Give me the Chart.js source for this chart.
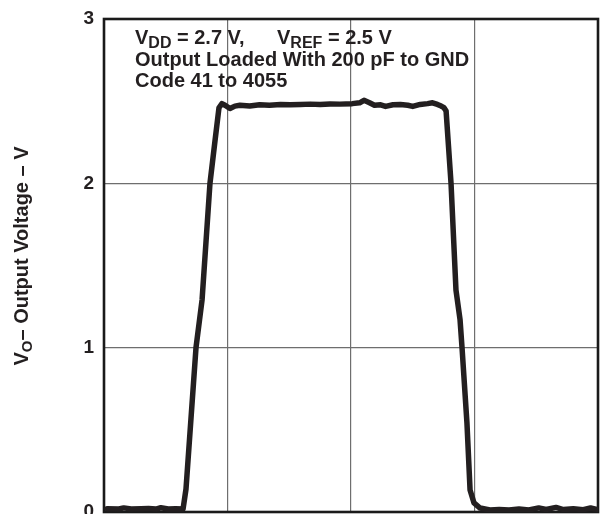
<!DOCTYPE html>
<html>
<head>
<meta charset="utf-8">
<script src="https://cdn.jsdelivr.net/npm/chart.js@4.4.1/dist/chart.umd.min.js"></script>
<style>
  html, body { margin: 0; padding: 0; background: #ffffff; }
  #wrap { width: 600px; height: 514px; }
</style>
</head>
<body>
<div id="wrap"><canvas id="c" width="600" height="514"></canvas></div>
<script>
// Time in grid divisions (x axis has no labels in the reference)
const timeDiv = [
  0.025, 0.12, 0.16, 0.22, 0.30, 0.36, 0.42, 0.46, 0.52, 0.58, 0.64,
  0.664, 0.745, 0.794, 0.858, 0.899, 0.931, 0.955,
  0.98, 1.02, 1.06, 1.10, 1.18, 1.26, 1.34, 1.43, 1.51, 1.59, 1.67, 1.75, 1.83, 1.91,
  2.01, 2.07, 2.105, 2.15, 2.19, 2.24, 2.28, 2.34, 2.40, 2.46, 2.50, 2.56, 2.62, 2.66, 2.70, 2.73, 2.753,
  2.77, 2.81, 2.85, 2.883, 2.899, 2.939, 2.964, 2.996, 3.045, 3.125,
  3.2, 3.28, 3.36, 3.44, 3.52, 3.58, 3.66, 3.72, 3.8, 3.88, 3.94, 3.99
];
// Output voltage, V
const outputVoltage = [
  0.02, 0.018, 0.025, 0.018, 0.02, 0.022, 0.018, 0.026, 0.018, 0.02, 0.018,
  0.14, 1.0, 1.29, 2.0, 2.26, 2.46, 2.485,
  2.475, 2.455, 2.47, 2.475, 2.47, 2.478, 2.475, 2.48, 2.478, 2.48, 2.482, 2.48, 2.483, 2.482,
  2.485, 2.49, 2.505, 2.49, 2.475, 2.478, 2.468, 2.478, 2.48, 2.475, 2.468, 2.48, 2.485, 2.49, 2.48, 2.47, 2.46,
  2.44, 2.0, 1.35, 1.17, 1.0, 0.54, 0.134, 0.055, 0.024, 0.012,
  0.015, 0.012, 0.018, 0.012, 0.025, 0.015, 0.028, 0.015, 0.02, 0.014, 0.024, 0.016
];
const yTickLabels = ['0', '1', '2', '3'];
const annotationLine2 = 'Output Loaded With 200 pF to GND';
const annotationLine3 = 'Code 41 to 4055';

const INK = '#231f20';
const FONT = '"Liberation Sans", Arial, Helvetica, sans-serif';

function drawSegments(ctx, x, y, segs) {
  let cx = x;
  for (const [t, size, dy] of segs) {
    ctx.font = 'bold ' + size + 'px ' + FONT;
    ctx.fillText(t, cx, y + dy);
    cx += ctx.measureText(t).width;
  }
  return cx;
}
function measureSegments(ctx, segs) {
  let w = 0;
  for (const [t, size] of segs) {
    ctx.font = 'bold ' + size + 'px ' + FONT;
    w += ctx.measureText(t).width;
  }
  return w;
}

const decor = {
  id: 'decor',
  beforeDatasetsDraw(chart) {
    const { ctx, chartArea: a } = chart;
    ctx.save();
    ctx.strokeStyle = '#1a1a1a';
    ctx.lineWidth = 2.6;
    ctx.strokeRect(a.left, a.top, a.right - a.left, a.bottom - a.top);
    ctx.restore();
  },
  afterDraw(chart) {
    const { ctx, chartArea: a } = chart;
    ctx.save();
    ctx.fillStyle = INK;
    ctx.textBaseline = 'alphabetic';
    ctx.textAlign = 'left';
    const x0 = a.left + 31;
    drawSegments(ctx, x0, a.top + 25, [['V', 20, 0], ['DD', 16, 4], [' = 2.7 V,', 20, 0]]);
    drawSegments(ctx, a.left + 173, a.top + 25, [['V', 20, 0], ['REF', 16, 4], [' = 2.5 V', 20, 0]]);
    ctx.font = 'bold 20px ' + FONT;
    ctx.fillText(annotationLine2, x0, a.top + 47);
    ctx.fillText(annotationLine3, x0, a.top + 68);
    const segs = [['V', 20, 0], ['O', 15, 4], ['\u2013 Output Voltage \u2013 V', 20, 0]];
    const w = measureSegments(ctx, segs);
    ctx.translate(28, 256);
    ctx.rotate(-Math.PI / 2);
    drawSegments(ctx, -w / 2, 0, segs);
    ctx.restore();
  }
};

new Chart(document.getElementById('c'), {
  type: 'line',
  data: {
    datasets: [{
      data: timeDiv.map((t, i) => ({ x: t, y: outputVoltage[i] })),
      borderColor: INK,
      borderWidth: 5.5,
      borderJoinStyle: 'round',
      borderCapStyle: 'round',
      pointRadius: 0,
      tension: 0,
      fill: false
    }]
  },
  options: {
    responsive: false,
    animation: false,
    devicePixelRatio: 1,
    layout: { padding: { left: 0, right: 2, top: 19, bottom: 2 } },
    plugins: { legend: { display: false }, tooltip: { enabled: false }, title: { display: false } },
    scales: {
      x: {
        type: 'linear', min: 0, max: 4,
        ticks: { display: false, stepSize: 1 },
        grid: { color: '#6e6e6e', lineWidth: 1.2, drawTicks: false },
        border: { display: false },
        afterFit(s) { s.height = 0; s.paddingLeft = 0; s.paddingRight = 0; }
      },
      y: {
        min: 0, max: 3,
        ticks: {
          stepSize: 1,
          padding: 10,
          color: INK,
          font: { family: FONT, size: 19, weight: 'bold' },
          callback: (v) => yTickLabels[v] ?? ''
        },
        grid: { color: '#6e6e6e', lineWidth: 1.2, drawTicks: false },
        border: { display: false },
        afterFit(s) { s.width = 104; s.paddingTop = 0; s.paddingBottom = 0; }
      }
    }
  },
  plugins: [decor]
});
</script>
</body>
</html>
